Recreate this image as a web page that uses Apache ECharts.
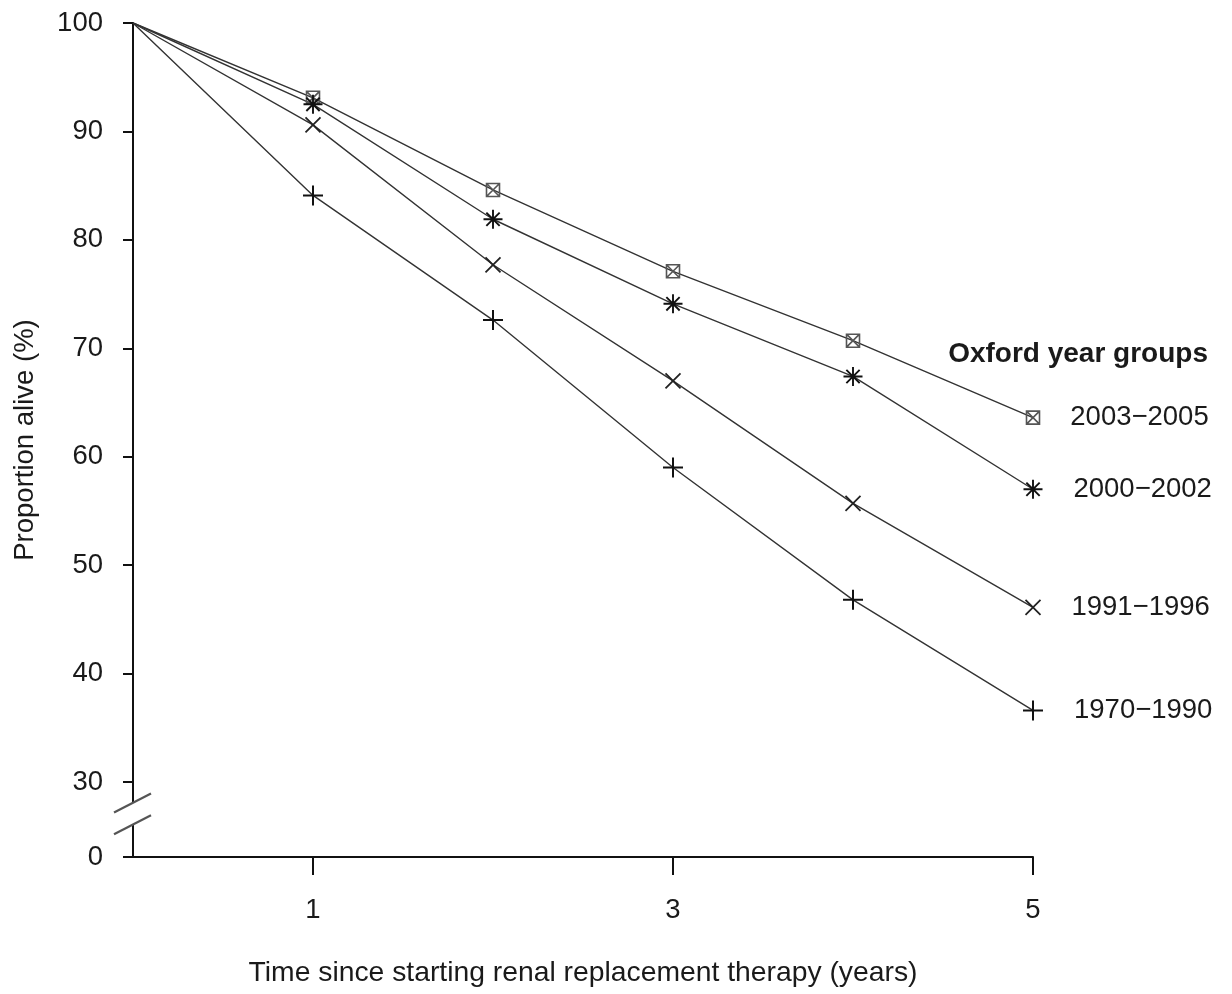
<!DOCTYPE html>
<html>
<head>
<meta charset="utf-8">
<script src="https://cdn.jsdelivr.net/npm/echarts@6/dist/echarts.min.js"></script>
<style>
  html, body { margin: 0; padding: 0; background: #fff; }
  #chart { width: 1232px; height: 994px; }
</style>
</head>
<body>
<div id="chart"></div>
<script>
// Survival after starting renal replacement therapy, by Oxford year group
const years = [0, 1, 2, 3, 4, 5];
const groupNames = ['2003\u22122005', '2000\u22122002', '1991\u22121996', '1970\u22121990'];
const group2003 = [100, 93.1, 84.6, 77.1, 70.7, 63.6];
const group2000 = [100, 92.5, 81.9, 74.1, 67.4, 57.0];
const group1991 = [100, 90.6, 77.7, 67.0, 55.7, 46.1];
const group1970 = [100, 84.1, 72.6, 59.0, 46.8, 36.6];

// y axis is broken below 30; the bottom of the axis stands for 0
const yFloor = 23.08;
const yTicks = [30, 40, 50, 60, 70, 80, 90, 100];
const xTicks = [1, 3, 5];

const FONT = "'Liberation Sans', Arial, sans-serif";
const INK = '#1a1a1a';
const TEXT_SIZE = 27.5;

const markers = [
  { path: 'path://M0,0H14V14H0ZM0,0L14,14M14,0L0,14', size: 13, color: '#555', width: 1.6 },
  { path: 'path://M0,10H20M10,0V20M3,3L17,17M17,3L3,17', size: 19, color: '#111', width: 1.9 },
  { path: 'path://M0,0L16,16M16,0L0,16', size: 15, color: '#222', width: 1.8 },
  { path: 'path://M0,10H20M10,0V20', size: 20, color: '#111', width: 2 }
];
const groups = [group2003, group2000, group1991, group1970];

const series = groups.map((vals, gi) => ({
  type: 'line',
  name: groupNames[gi],
  symbol: markers[gi].path,
  symbolSize: markers[gi].size,
  showSymbol: true,
  lineStyle: { color: '#333', width: 1.4 },
  itemStyle: { color: 'rgba(0,0,0,0)', borderColor: markers[gi].color, borderWidth: markers[gi].width },
  emphasis: { disabled: true },
  data: years.map((x, i) => {
    const item = { value: [x, vals[i]] };
    if (i === 0) item.symbol = 'none';
    if (i === years.length - 1) {
      item.label = {
        show: true, position: 'right', distance: 30,
        formatter: groupNames[gi],
        color: INK, fontSize: TEXT_SIZE, fontFamily: FONT
      };
    }
    return item;
  })
}));

const chart = echarts.init(document.getElementById('chart'), null, { renderer: 'canvas' });

chart.setOption({
  animation: false,
  backgroundColor: '#fff',
  title: {
    text: 'Oxford year groups',
    right: 19, top: 335,
    textStyle: { fontFamily: FONT, fontSize: 28, fontWeight: 'bold', color: INK }
  },
  grid: { left: 133, top: 23, right: 199, bottom: 137 },
  xAxis: {
    type: 'value', min: 0, max: 5,
    name: 'Time since starting renal replacement therapy (years)',
    nameLocation: 'middle', nameGap: 102,
    nameTextStyle: { fontFamily: FONT, fontSize: 28.3, color: INK },
    axisLine: { show: true, onZero: false, lineStyle: { color: '#111', width: 2 } },
    axisTick: { show: true, length: 18, customValues: xTicks, lineStyle: { color: '#111', width: 2 } },
    axisLabel: { customValues: xTicks, margin: 39, fontFamily: FONT, fontSize: TEXT_SIZE, color: INK },
    splitLine: { show: false }
  },
  yAxis: {
    type: 'value', min: yFloor, max: 100,
    name: 'Proportion alive (%)',
    nameLocation: 'middle', nameGap: 94,
    nameTextStyle: { fontFamily: FONT, fontSize: TEXT_SIZE, color: INK },
    axisLine: { show: true, onZero: false, lineStyle: { color: '#111', width: 2 } },
    axisTick: { show: true, length: 10, customValues: [yFloor].concat(yTicks), lineStyle: { color: '#111', width: 2 } },
    axisLabel: {
      customValues: [yFloor].concat(yTicks), margin: 30,
      fontFamily: FONT, fontSize: TEXT_SIZE, color: INK,
      formatter: v => (v < yTicks[0] ? '0' : String(v))
    },
    splitLine: { show: false }
  },
  series: series
});

// break marks on the y axis between 0 and 30
function drawBreak() {
  const ax = chart.convertToPixel({ xAxisIndex: 0 }, 0);
  const yUpper = chart.convertToPixel({ yAxisIndex: 0 }, 28.1);
  const yLower = chart.convertToPixel({ yAxisIndex: 0 }, 26.1);
  const slash = (cy) => ({
    type: 'line', z: 101,
    shape: { x1: ax - 19, y1: cy + 10, x2: ax + 18, y2: cy - 9 },
    style: { stroke: '#555', lineWidth: 2.2 }
  });
  chart.setOption({
    graphic: [
      { type: 'rect', z: 100, shape: { x: ax - 4, y: yUpper, width: 8, height: yLower - yUpper }, style: { fill: '#fff' } },
      slash(yUpper),
      slash(yLower)
    ]
  });
}
drawBreak();
</script>
</body>
</html>
